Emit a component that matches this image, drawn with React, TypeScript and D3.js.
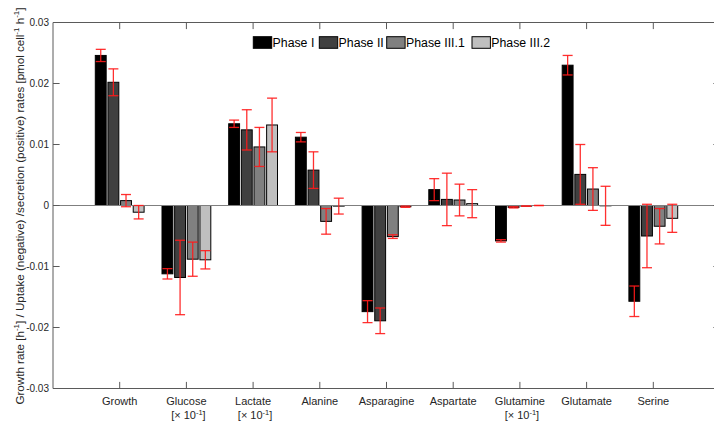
import React from "react";
import * as d3 from "d3";

const categories = ["Growth", "Glucose", "Lactate", "Alanine", "Asparagine", "Aspartate", "Glutamine", "Glutamate", "Serine"];
const subLabels = ["", "[× 10", "[× 10", "", "", "", "[× 10", "", ""];
const seriesNames = ["Phase I", "Phase II", "Phase III.1", "Phase III.2"];
const seriesColors = ["#000000", "#404040", "#808080", "#bfbfbf"];

const phase1 = [0.0246, -0.0112, 0.0134, 0.0112, -0.0174, 0.0026, -0.0058, 0.0230, -0.0157];
const phase2 = [0.0202, -0.0118, 0.0124, 0.0058, -0.0189, 0.0010, -0.0003, 0.0051, -0.0050];
const phase3 = [0.0008, -0.0088, 0.0096, -0.0026, -0.0051, 0.0009, -0.0001, 0.0027, -0.0034];
const phase4 = [-0.0011, -0.0089, 0.0132, -0.0001, -0.0002, 0.0003, 0.0000, -0.00005, -0.0021];

const err1 = [0.0010, 0.00085, 0.0006, 0.00077, 0.0018, 0.0018, 0.0002, 0.0016, 0.0025];
const err2 = [0.0022, 0.0061, 0.0033, 0.0030, 0.0021, 0.0043, 0.0001, 0.0049, 0.0052];
const err3 = [0.0010, 0.0028, 0.0032, 0.0021, 0.0003, 0.0026, 0.0000, 0.0035, 0.0029];
const err4 = [0.0011, 0.0015, 0.0044, 0.0013, 0.0001, 0.0023, 0.0000, 0.0032, 0.0023];

const yTicks = [-0.03, -0.02, -0.01, 0, 0.01, 0.02, 0.03];

const values = [phase1, phase2, phase3, phase4];
const errors = [err1, err2, err3, err4];

const W = 714;
const H = 423;
const FONT = "'Liberation Sans', Arial, Helvetica, sans-serif";

export default function App() {
  const left = 53, right = 720, top = 22.5, bottom = 388.5;
  const x = d3.scaleLinear().domain([0, 10]).range([left, right]);
  const y = d3.scaleLinear().domain([-0.03, 0.03]).range([bottom, top]);
  const off = d3.scaleBand<string>().domain(seriesNames).range([-24.4, 24.4]).paddingInner(0.14);
  const bw = off.bandwidth();
  const tickLen = 6.6;
  const axisColor = "#5a5a5a";
  const capW = 10;

  const fmt = (v: number) => (v === 0 ? "0" : d3.format(".2f")(v).replace("−", "-"));

  return (
    <svg width={W} height={H} style={{ position: "absolute", left: 0, top: 0, background: "#fff" }} fontFamily={FONT}>
      <rect x={0} y={0} width={W} height={H} fill="#fff" />
      {/* bars */}
      {values.map((vals, s) =>
        vals.map((v, i) => {
          const cx = x(i + 1) + (off(seriesNames[s]) as number);
          const y0 = y(0), y1 = y(v);
          return (
            <rect
              key={`b${s}-${i}`}
              x={cx}
              y={Math.min(y0, y1)}
              width={bw}
              height={Math.abs(y1 - y0)}
              fill={seriesColors[s]}
              stroke="#000"
              strokeWidth={1}
            />
          );
        })
      )}
      {/* baseline */}
      <line x1={left} x2={right} y1={y(0)} y2={y(0)} stroke="#7f7f7f" strokeWidth={1.2} />
      {/* error bars */}
      {values.map((vals, s) =>
        vals.map((v, i) => {
          const e = errors[s][i];
          const cx = x(i + 1) + (off(seriesNames[s]) as number) + bw / 2;
          const yh = y(v + e), yl = y(v - e);
          return (
            <g key={`e${s}-${i}`} stroke="#ff1a1a" strokeWidth={1.3} strokeOpacity={0.9}>
              <line x1={cx} x2={cx} y1={yh} y2={yl} />
              <line x1={cx - capW / 2} x2={cx + capW / 2} y1={yh} y2={yh} />
              <line x1={cx - capW / 2} x2={cx + capW / 2} y1={yl} y2={yl} />
            </g>
          );
        })
      )}
      {/* axes box */}
      <g stroke={axisColor} strokeWidth={1} fill="none">
        <line x1={left} x2={right} y1={top} y2={top} />
        <line x1={left} x2={right} y1={bottom} y2={bottom} />
        <line x1={left} x2={left} y1={top} y2={bottom} />
        <line x1={right} x2={right} y1={top} y2={bottom} />
        {yTicks.map((t) => (
          <g key={`yt${t}`}>
            <line x1={left} x2={left + tickLen} y1={y(t)} y2={y(t)} />
            <line x1={right - tickLen} x2={right} y1={y(t)} y2={y(t)} />
          </g>
        ))}
        {categories.map((c, i) => (
          <g key={`xt${c}`}>
            <line x1={x(i + 1)} x2={x(i + 1)} y1={bottom} y2={bottom - tickLen} />
            <line x1={x(i + 1)} x2={x(i + 1)} y1={top} y2={top + tickLen} />
          </g>
        ))}
      </g>
      {/* y tick labels */}
      {yTicks.map((t) => (
        <text key={`yl${t}`} x={49} y={y(t) + 3.6} fontSize={10} textAnchor="end" fill="#262626">
          {fmt(t)}
        </text>
      ))}
      {/* x tick labels */}
      {categories.map((c, i) => (
        <g key={`xl${c}`}>
          <text x={x(i + 1)} y={405} fontSize={11} textAnchor="middle" fill="#262626">
            {c}
          </text>
          {subLabels[i] && (
            <text x={x(i + 1) + 2} y={418.5} fontSize={11} textAnchor="middle" fill="#262626">
              {subLabels[i]}
              <tspan fontSize={7.5} dy={-4}>-1</tspan>
              <tspan dy={4}>]</tspan>
            </text>
          )}
        </g>
      ))}
      {/* y label */}
      <text transform="translate(23.5,206) rotate(-90)" fontSize={11.6} textAnchor="middle" fill="#262626">
        Growth rate [h<tspan fontSize={8} dy={-4.5}>-1</tspan><tspan dy={4.5}>] / Uptake (negative) /secretion (positive) rates [pmol cell</tspan>
        <tspan fontSize={8} dy={-4.5}>-1</tspan><tspan dy={4.5}> h</tspan><tspan fontSize={8} dy={-4.5}>-1</tspan><tspan dy={4.5}>]</tspan>
      </text>
      {/* legend */}
      {(() => {
        const starts = [253.3, 319.3, 386.7, 472];
        return seriesNames.map((n, s) => (
          <g key={`lg${n}`}>
            <rect x={starts[s]} y={36.7} width={18.4} height={11.6} fill={seriesColors[s]} stroke="#000" strokeWidth={1} />
            <text x={starts[s] + 19.3} y={47} fontSize={12.3} fill="#000">
              {n}
            </text>
          </g>
        ));
      })()}
    </svg>
  );
}
